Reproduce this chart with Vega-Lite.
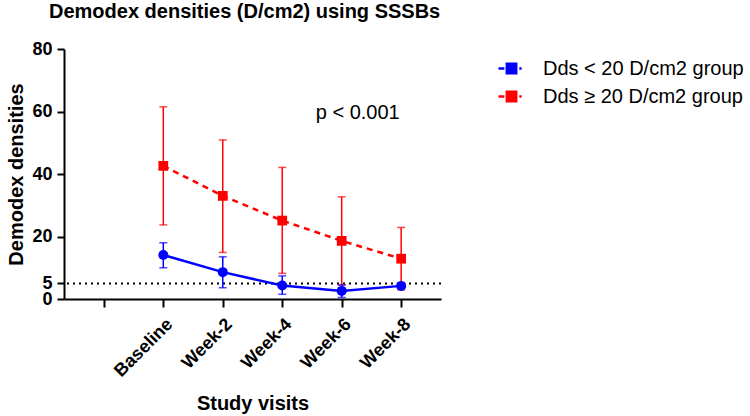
{
  "$schema": "https://vega.github.io/schema/vega-lite/v6.json",
  "autosize": {"type": "none"},
  "padding": {"left": 64, "top": 49, "right": 309, "bottom": 117},
  "width": 377,
  "height": 250,
  "background": "white",
  "title": {
    "text": "Demodex densities (D/cm2) using SSSBs",
    "anchor": "start",
    "frame": "group",
    "dx": -15,
    "fontSize": 20,
    "fontWeight": "bold",
    "font": "Liberation Sans",
    "color": "black",
    "baseline": "alphabetic",
    "offset": 2
  },
  "config": {
    "view": {"stroke": null},
    "font": "Liberation Sans",
    "axis": {
      "domainColor": "black",
      "domainWidth": 2,
      "tickColor": "black",
      "tickWidth": 2,
      "grid": false,
      "labelColor": "black",
      "labelFont": "Liberation Sans",
      "labelFontWeight": "bold",
      "labelFontSize": 18,
      "labelOverlap": false,
      "titleFont": "Liberation Sans",
      "titleFontWeight": "bold",
      "titleFontSize": 20,
      "titleColor": "black"
    }
  },
  "data": {
    "values": [
      {"group": "Dds < 20 D/cm2 group", "visit": "Baseline", "mean": 14.1, "lo": 10.0, "hi": 18.0},
      {"group": "Dds < 20 D/cm2 group", "visit": "Week-2", "mean": 8.6, "lo": 3.6, "hi": 13.5},
      {"group": "Dds < 20 D/cm2 group", "visit": "Week-4", "mean": 4.3, "lo": 1.5, "hi": 7.4},
      {"group": "Dds < 20 D/cm2 group", "visit": "Week-6", "mean": 2.6, "lo": 0.5, "hi": 4.5},
      {"group": "Dds < 20 D/cm2 group", "visit": "Week-8", "mean": 4.2, "lo": 3.6, "hi": 4.8},
      {"group": "Dds ≥ 20 D/cm2 group", "visit": "Baseline", "mean": 42.6, "lo": 23.7, "hi": 61.5},
      {"group": "Dds ≥ 20 D/cm2 group", "visit": "Week-2", "mean": 33.0, "lo": 14.9, "hi": 50.9},
      {"group": "Dds ≥ 20 D/cm2 group", "visit": "Week-4", "mean": 25.1, "lo": 8.2, "hi": 42.1},
      {"group": "Dds ≥ 20 D/cm2 group", "visit": "Week-6", "mean": 18.6, "lo": 4.5, "hi": 32.7},
      {"group": "Dds ≥ 20 D/cm2 group", "visit": "Week-8", "mean": 12.9, "lo": 2.9, "hi": 22.9}
    ]
  },
  "encoding": {
    "x": {
      "field": "visit",
      "type": "nominal",
      "sort": null,
      "scale": {"type": "point", "domain": [" ", "Baseline", "Week-2", "Week-4", "Week-6", "Week-8"], "padding": 0.67},
      "axis": {"title": "Study visits", "labelAngle": -45, "tickSize": 8, "labelPadding": 8, "titleY": 104, "titleBaseline": "middle"}
    },
    "color": {
      "field": "group",
      "type": "nominal",
      "scale": {"domain": ["Dds < 20 D/cm2 group", "Dds ≥ 20 D/cm2 group"], "range": ["#0000ff", "#ff0000"]},
      "legend": {
        "title": null,
        "orient": "none",
        "legendX": 433,
        "legendY": 5,
        "padding": 0,
        "symbolSize": 676,
        "symbolOpacity": 1,
        "symbolStrokeWidth": 2.5,
        "labelFontSize": 20,
        "labelFont": "Liberation Sans",
        "labelColor": "black",
        "labelOffset": 17,
        "rowPadding": 3,
        "labelLimit": 400,
        "encode": {
          "symbols": {
            "update": {
              "shape": {"condition": {"test": "datum.index === 0 || datum.value === 'Dds < 20 D/cm2 group' || datum.label === 'Dds < 20 D/cm2 group'", "value": "M-1,0H1M-0.42,0A0.42,0.42,0,1,1,0.42,0A0.42,0.42,0,1,1,-0.42,0Z"}, "value": "M-1,0H-0.55M-0.36,-0.36H0.36V0.36H-0.36ZM0.6,0H0.78"},
              "fill": {"condition": {"test": "datum.index === 0 || datum.value === 'Dds < 20 D/cm2 group' || datum.label === 'Dds < 20 D/cm2 group'", "value": "#0000ff"}, "value": "#ff0000"},
              "stroke": {"condition": {"test": "datum.index === 0 || datum.value === 'Dds < 20 D/cm2 group' || datum.label === 'Dds < 20 D/cm2 group'", "value": "#0000ff"}, "value": "#ff0000"},
              "strokeWidth": {"value": 2.5},
              "opacity": {"value": 1},
              "fillOpacity": {"value": 1},
              "strokeOpacity": {"value": 1}
            }
          }
        }
      }
    }
  },
  "layer": [
    {
      "data": {"values": [{"threshold": 5}]},
      "mark": {"type": "rule", "strokeWidth": 2, "strokeDash": [2, 4]},
      "encoding": {"x": null, "color": {"value": "black"}, "y": {"field": "threshold", "type": "quantitative"}}
    },
    {
      "mark": {"type": "rule", "strokeWidth": 1.5},
      "encoding": {
        "y": {"field": "lo", "type": "quantitative", "scale": {"domain": [0, 80]}, "axis": {"title": "Demodex densities", "values": [0, 5, 20, 40, 60, 80], "tickSize": 7, "labelPadding": 5, "titleX": -48, "titleBaseline": "middle"}},
        "y2": {"field": "hi"}
      }
    },
    {
      "mark": {"type": "tick", "thickness": 1.5, "size": 8},
      "encoding": {"y": {"field": "lo", "type": "quantitative"}}
    },
    {
      "mark": {"type": "tick", "thickness": 1.5, "size": 8},
      "encoding": {"y": {"field": "hi", "type": "quantitative"}}
    },
    {
      "transform": [{"filter": "datum.group === 'Dds ≥ 20 D/cm2 group'"}],
      "mark": {"type": "line", "strokeWidth": 2.5, "strokeDash": [6, 5]},
      "encoding": {"y": {"field": "mean", "type": "quantitative"}}
    },
    {
      "transform": [{"filter": "datum.group === 'Dds < 20 D/cm2 group'"}],
      "mark": {"type": "line", "strokeWidth": 2.5},
      "encoding": {"y": {"field": "mean", "type": "quantitative"}}
    },
    {
      "transform": [{"filter": "datum.group === 'Dds ≥ 20 D/cm2 group'"}],
      "mark": {"type": "point", "filled": true, "opacity": 1, "size": 95, "shape": "square"},
      "encoding": {"y": {"field": "mean", "type": "quantitative"}}
    },
    {
      "transform": [{"filter": "datum.group === 'Dds < 20 D/cm2 group'"}],
      "mark": {"type": "point", "filled": true, "opacity": 1, "size": 100, "shape": "circle"},
      "encoding": {"y": {"field": "mean", "type": "quantitative"}}
    },
    {
      "data": {"values": [{"label": "p < 0.001", "where": "Week-6", "level": 59.5}]},
      "mark": {"type": "text", "fontSize": 20, "font": "Liberation Sans", "fontWeight": "normal", "dx": 16, "baseline": "middle"},
      "encoding": {
        "x": {"field": "where", "type": "nominal"},
        "y": {"field": "level", "type": "quantitative"},
        "color": {"value": "black"},
        "text": {"field": "label"}
      }
    }
  ]
}
